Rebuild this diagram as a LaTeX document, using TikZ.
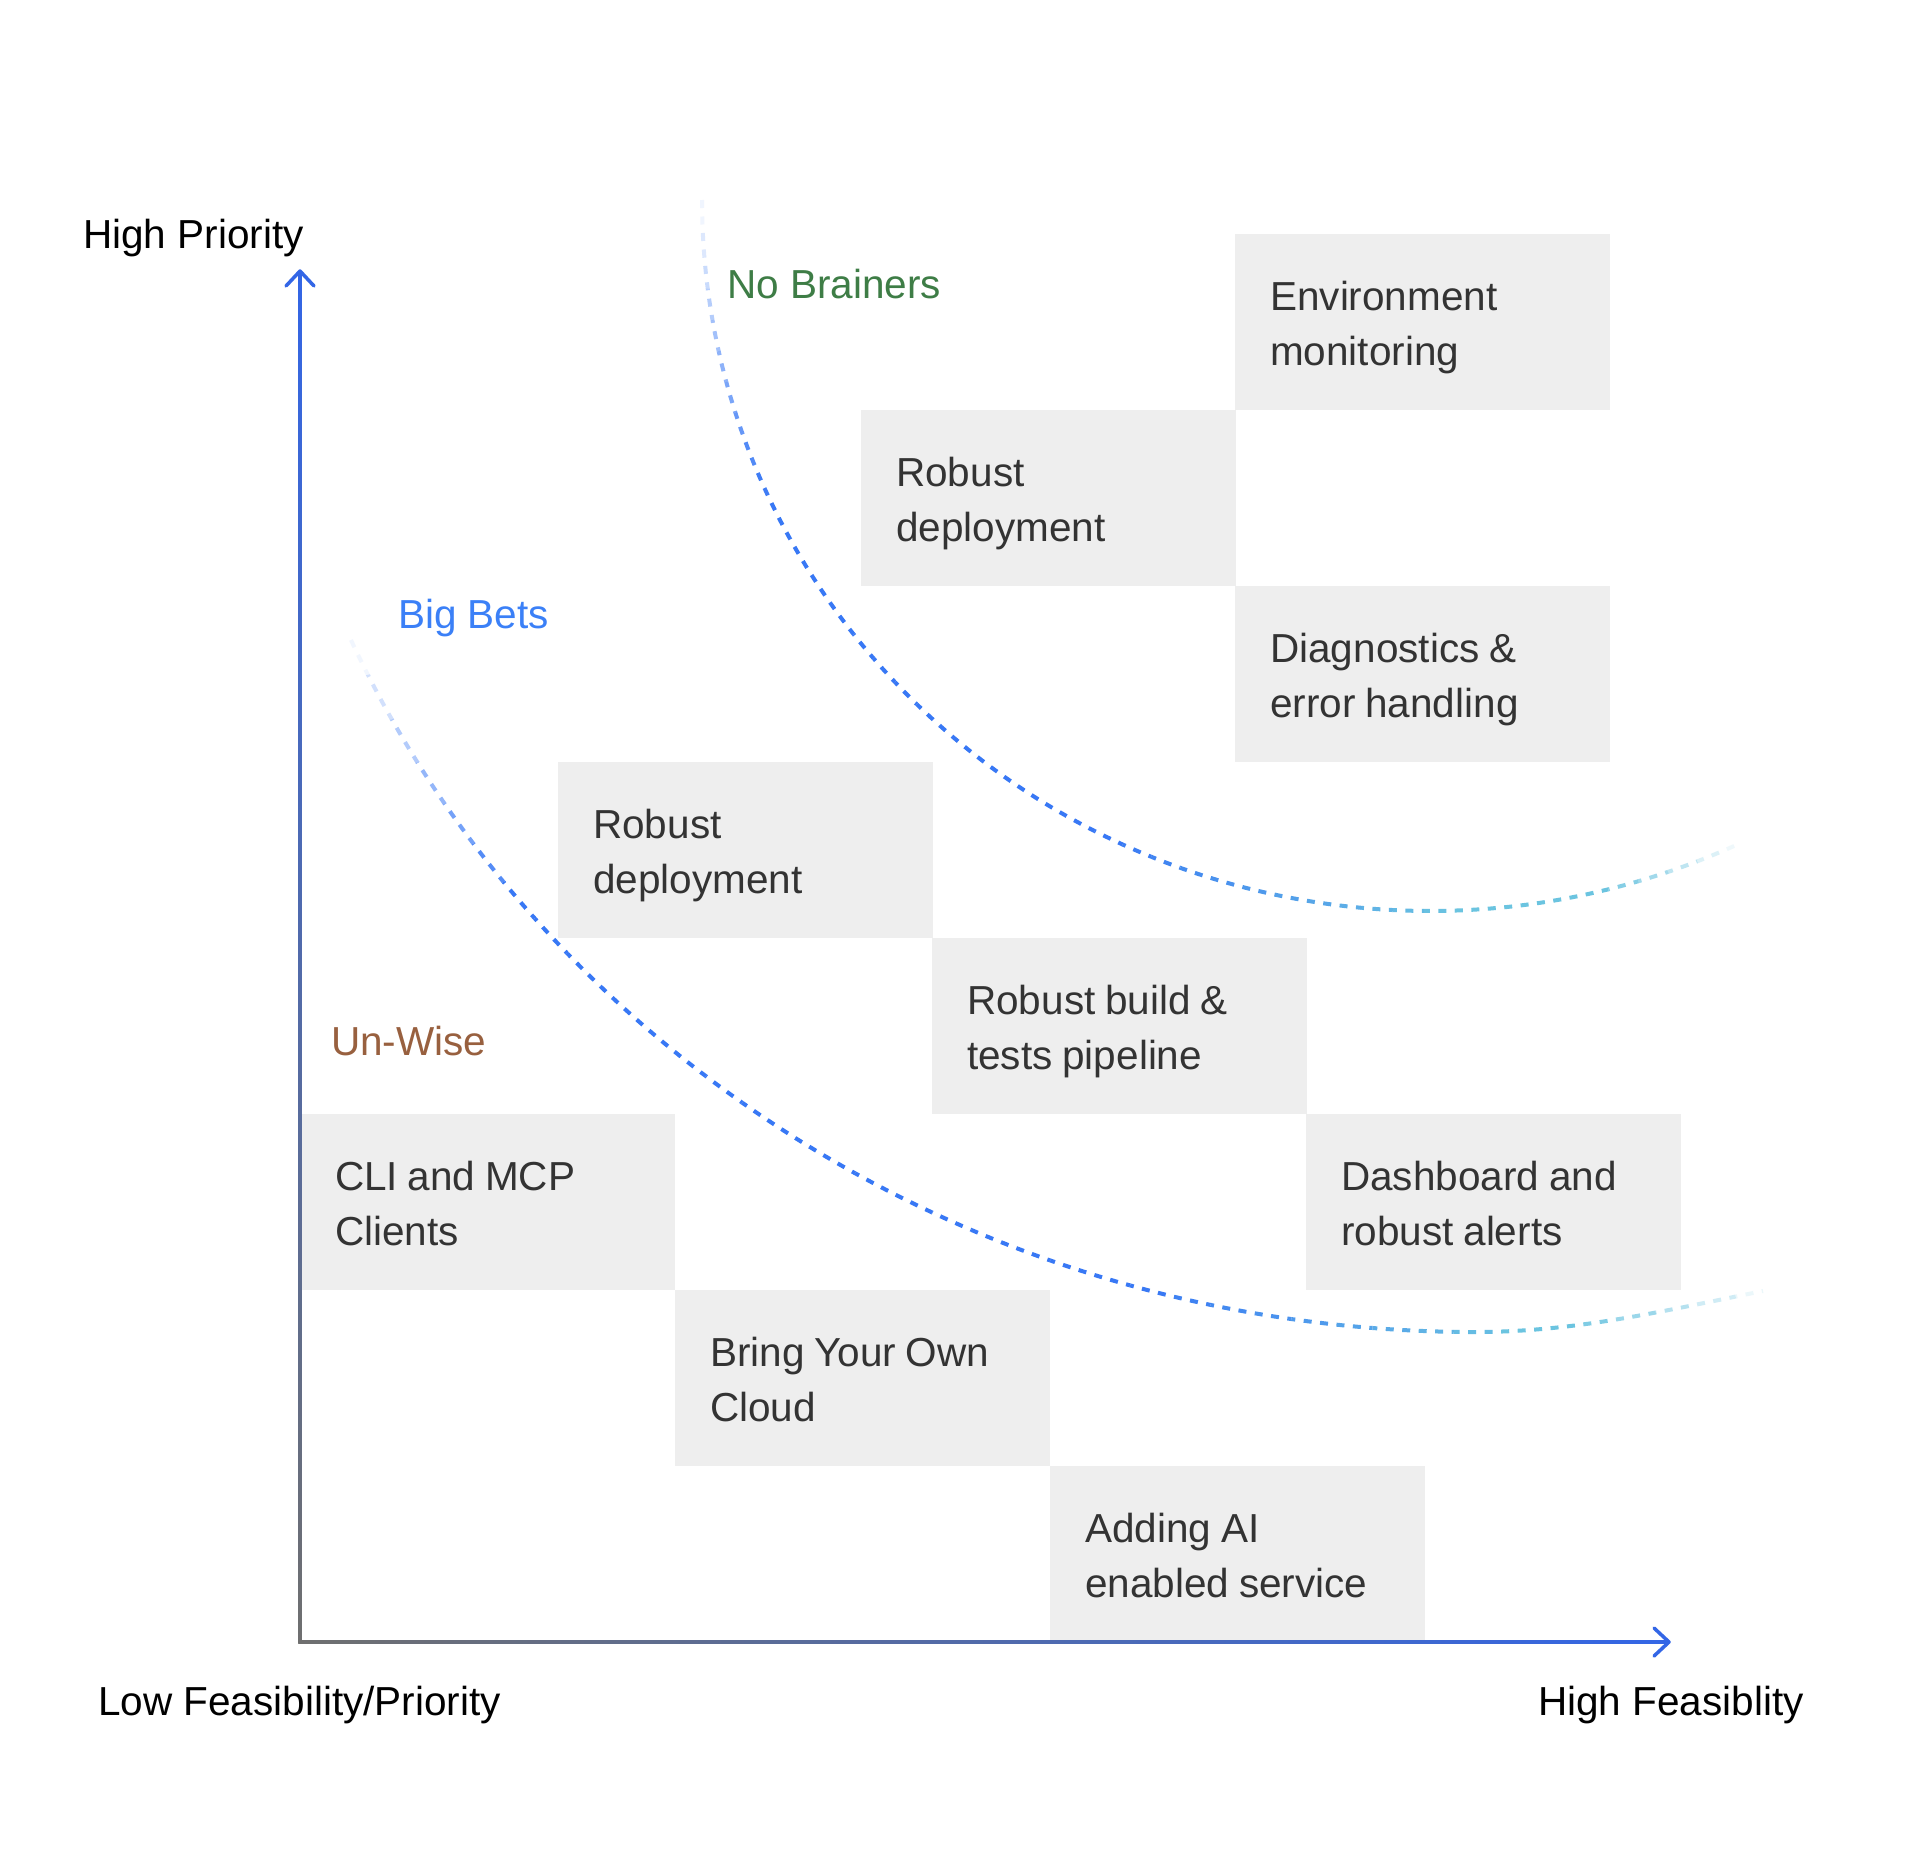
\documentclass[tikz,border=0pt]{standalone}
\usepackage{fontspec}
\setmainfont{Liberation Sans}
\usetikzlibrary{calc}

\definecolor{boxfill}{HTML}{EEEEEE}
\definecolor{boxtext}{HTML}{333333}
\definecolor{axblue}{HTML}{3366E6}
\definecolor{axgray}{HTML}{6F6F6F}
\definecolor{nbgreen}{HTML}{3E7D46}
\definecolor{bbblue}{HTML}{3B80F7}
\definecolor{uwbrown}{HTML}{98603F}

% colour + opacity of a dash at fraction #1 of the curve
% #2 end of fade-in, #3 start of blue->cyan, #4 full cyan, #5 start of fade-out
\newcommand\dashstyle[5]{%
  \pgfmathsetmacro\dmf{#1}%
  \pgfmathsetmacro\dmin{min(1,0.04+0.96*\dmf/#2)}%
  \pgfmathsetmacro\dmout{\dmf>#5 ? max(0.1,1-0.9*(\dmf-#5)/(1-#5)) : 1}%
  \pgfmathsetmacro\dmop{\dmin*\dmout}%
  \pgfmathsetmacro\dmc{min(1,max(0,(\dmf-#3)/(#4-#3)))}%
  \pgfmathsetmacro\dmR{0.22+(0.42-0.22)*\dmc}%
  \pgfmathsetmacro\dmG{0.47+(0.77-0.47)*\dmc}%
  \pgfmathsetmacro\dmB{0.96+(0.88-0.96)*\dmc}%
  \edef\dmtmp{\noexpand\definecolor{dashcol}{rgb}{\dmR,\dmG,\dmB}}\dmtmp
}

\tikzset{
  box/.style={rectangle, fill=boxfill, minimum width=375pt, minimum height=176pt,
    inner sep=0pt, anchor=north west},
  boxtxt/.style={anchor=base west, inner sep=0pt, align=left, text width=330pt,
    font=\fontsize{40.5}{55}\selectfont, text=boxtext,
    execute at begin node={\spaceskip=0.24em plus 0.1em\relax}},
  axlabel/.style={anchor=base west, inner sep=0pt, font=\fontsize{40.5}{55}\selectfont, text=black},
  catlabel/.style={anchor=base west, inner sep=0pt, font=\fontsize{40.5}{55}\selectfont},
  axtip/.style={draw=axblue, line width=3.5pt, line cap=round, line join=round},
  curvedash/.style={line width=4pt, dash pattern=on 8pt off 8.5pt},
}

\begin{document}
\begin{tikzpicture}[x=1pt, y=-1pt]
\useasboundingbox (0,0) rectangle (1918,1872);
\fill[white] (0,0) rectangle (1918,1872);

% boxes
\node[box] (env) at (1235,234) {};
\node[box] (rob1) at (861,410) {};
\node[box] (diag) at (1235,586) {};
\node[box] (rob2) at (558,762) {};
\node[box] (build) at (932,938) {};
\node[box] (dash) at (1306,1114) {};
\node[box] (cli) at (300,1114) {};
\node[box] (byoc) at (675,1290) {};
\node[box] (ai) at (1050,1466) {};

\node[boxtxt] (envt) at ($(env.north west)+(35,76)$) {Environment\\monitoring};
\node[boxtxt] (rob1t) at ($(rob1.north west)+(35,76)$) {Robust\\deployment};
\node[boxtxt] (diagt) at ($(diag.north west)+(35,76)$) {Diagnostics \&\\error handling};
\node[boxtxt] (rob2t) at ($(rob2.north west)+(35,76)$) {Robust\\deployment};
\node[boxtxt] (buildt) at ($(build.north west)+(35,76)$) {Robust build \&\\tests pipeline};
\node[boxtxt] (dasht) at ($(dash.north west)+(35,76)$) {Dashboard and\\robust alerts};
\node[boxtxt] (clit) at ($(cli.north west)+(35,76)$) {CLI and MCP\\Clients};
\node[boxtxt] (byoct) at ($(byoc.north west)+(35,76)$) {Bring Your Own\\Cloud};
\node[boxtxt] (ait) at ($(ai.north west)+(35,76)$) {Adding AI\\enabled service};

% upper dashed boundary (elliptic arc), coloured wedge by wedge
\coordinate (uc) at (1430,200);
\foreach \i in {0,...,47} {
  \pgfmathsetmacro\ta{183-\i*2.5}
  \pgfmathsetmacro\tb{\ta-2.5}
  \dashstyle{min(1,max(0,(180-(\ta-1.25))/115))}{0.21}{0.55}{0.8}{0.9}
  \begin{scope}
    \clip (uc) -- ($(uc)+({3000*cos(\ta)},{3000*sin(\ta)})$) -- ($(uc)+({3000*cos(\tb)},{3000*sin(\tb)})$) -- cycle;
    \draw[curvedash, draw=dashcol, draw opacity=\dmop]
      plot[domain=180:65, samples=160] ({1430+728*cos(\x)},{200+711*sin(\x)});
  \end{scope}
}

% lower dashed boundary, coloured wedge by wedge
\coordinate (lc) at (1470,400);
\foreach \i in {0,...,41} {
  \pgfmathsetmacro\ta{171-\i*2.5}
  \pgfmathsetmacro\tb{\ta-2.5}
  \dashstyle{min(1,max(0,(167.7-(\ta-1.25))/95.9))}{0.16}{0.6}{0.84}{0.87}
  \begin{scope}
    \clip (lc) -- ($(lc)+({3000*cos(\ta)},{3000*sin(\ta)})$) -- ($(lc)+({3000*cos(\tb)},{3000*sin(\tb)})$) -- cycle;
    \draw[curvedash, draw=dashcol, draw opacity=\dmop]
      (351,640) .. controls (540,1047) and (975,1332) .. (1475,1332)
      .. controls (1575,1332) and (1663,1311) .. (1763,1291);
  \end{scope}
}

% axes
\coordinate (O) at (300,1642);
\coordinate (ytip) at (300,271);
\coordinate (xtip) at (1669,1642);
\shade[bottom color=axgray, top color=axblue] ($(O)+(-1.75,1.75)$) rectangle ($(ytip)+(1.75,0)$);
\shade[left color=axgray, right color=axblue] ($(O)+(-1.75,1.75)$) rectangle ($(xtip)+(0,-1.75)$);
\draw[axtip] ($(ytip)+(-14,15)$) -- (ytip) -- ($(ytip)+(14,15)$);
\draw[axtip] ($(xtip)+(-15,-14)$) -- (xtip) -- ($(xtip)+(-15,14)$);

% labels
\node[axlabel] (hp) at (83,248) {High Priority};
\node[axlabel] (lf) at (98,1715) {Low Feasibility/Priority};
\node[axlabel] (hf) at (1538,1715) {High Feasiblity};
\node[catlabel, text=nbgreen] (nb) at (727,298) {No Brainers};
\node[catlabel, text=bbblue] (bb) at (398,628) {Big Bets};
\node[catlabel, text=uwbrown] (uw) at (331,1055) {Un-Wise};
\end{tikzpicture}
\end{document}
